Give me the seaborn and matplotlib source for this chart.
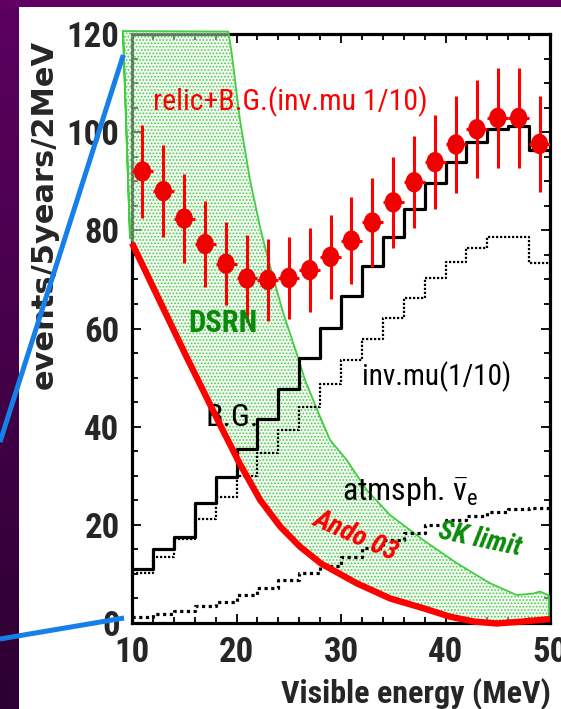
import numpy as np
import matplotlib
matplotlib.use("Agg")
import matplotlib.pyplot as plt
import seaborn as sns
from matplotlib.path import Path
from matplotlib.patches import Polygon
from matplotlib.lines import Line2D
from matplotlib.transforms import Affine2D
from matplotlib.ticker import MultipleLocator

# ---------------- data ----------------
bin_edges = [10, 12, 14, 16, 18, 20, 22, 24, 26, 28, 30,
             32, 34, 36, 38, 40, 42, 44, 46, 48, 50]
bin_centers = [11, 13, 15, 17, 19, 21, 23, 25, 27, 29,
               31, 33, 35, 37, 39, 41, 43, 45, 47, 49]
bin_half_width = 1.0

# relic + background (inv.mu scaled 1/10), with statistical errors
relic_bg = [92.0, 88.0, 82.4, 77.2, 73.2, 70.2, 69.9, 70.3, 71.9, 74.6,
            77.9, 81.6, 85.7, 89.8, 93.9, 97.5, 100.6, 102.9, 102.9, 97.6]
relic_err = [9.5, 9.3, 9.1, 8.7, 8.4, 8.8, 8.3, 8.3, 8.5, 8.6,
             8.8, 9.0, 9.2, 9.4, 9.6, 9.8, 10.0, 10.1, 10.1, 9.8]

# total background
bg_total = [10.9, 15.0, 17.6, 24.4, 29.8, 35.4, 41.5, 47.6, 54.0, 60.2,
            66.6, 72.7, 78.7, 84.3, 89.6, 93.9, 97.9, 100.7, 101.3, 96.4]
# invisible muon decay electrons (1/10)
inv_mu = [10.1, 13.4, 17.1, 21.1, 25.7, 30.0, 34.6, 39.3, 44.1, 48.7,
          53.5, 57.8, 62.2, 66.3, 70.2, 73.5, 76.5, 78.6, 78.6, 73.3]
# atmospheric anti-nu_e
atm_nue = [1.2, 1.8, 2.5, 3.5, 4.3, 5.8, 7.1, 8.7, 10.1, 11.6,
           13.4, 15.2, 16.9, 18.3, 20.0, 21.0, 21.8, 22.7, 23.2, 23.5]

# Ando 03 relic spectrum prediction
ando_x = [10.0, 12.0, 15.2, 18.4, 20.3, 22.25, 24.2, 26.1, 28.1, 31.5,
          34.7, 37.9, 40.4, 42.7, 44.9, 47.4, 50.0]
ando_y = [77.4, 68.5, 54.3, 40.5, 32.5, 25.1, 19.6, 15.5, 12.1, 8.1,
          5.0, 3.0, 1.3, 0.3, -0.1, 0.3, 0.8]

# SK upper limit on the DSRN spectrum (upper edge of the allowed band)
sk_x = [9.14, 19.22, 19.54, 20.33, 21.29, 22.25, 23.04, 24.48, 25.76, 26.56,
        28.0, 28.95, 30.55, 32.46, 34.69, 37.87, 41.07, 44.26, 46.81, 48.4,
        49.04, 49.9, 49.9]
sk_y = [120.6, 120.5, 116.1, 102.5, 90.3, 80.7, 74.0, 63.1, 54.9, 49.5,
        42.0, 37.3, 33.2, 27.1, 22.0, 16.9, 12.2, 8.1, 5.7, 6.0,
        6.4, 5.6, 0.8]
band_left_x = [9.81, 9.14]
band_left_y = [78.4, 120.6]

x_ticks = [10, 20, 30, 40, 50]
y_ticks = [0, 20, 40, 60, 80, 100, 120]

# ---------------- style ----------------
sns.set_theme(style="ticks")
NARROW = ["Liberation Sans Narrow", "Roboto Condensed", "Open Sans Condensed",
          "DejaVu Sans Condensed", "Liberation Sans", "DejaVu Sans"]
plt.rcParams.update({
    "font.family": NARROW,
    "font.stretch": "condensed",
    "mathtext.fontset": "custom",
    "mathtext.rm": "Roboto Condensed",
    "mathtext.it": "Roboto Condensed",
    "mathtext.bf": "Roboto Condensed:bold",
    "hatch.linewidth": 0.8,
    "axes.edgecolor": "black",
})

RED = "#ff0000"
GREEN_LINE = "#44cc44"
GREEN_TEXT = "#0a8a0a"

W, H = 561, 709
fig = plt.figure(figsize=(W / 100, H / 100), dpi=100, facecolor="white")

# purple slide frame
grad = np.linspace(0, 1, 256).reshape(-1, 1)
frame_cmap = matplotlib.colors.LinearSegmentedColormap.from_list(
    "frame", ["#5c005f", "#2c0032"])
bar_ax = fig.add_axes([0, 0, 18.5 / W, 1])
bar_ax.imshow(grad, aspect="auto", cmap=frame_cmap, extent=[0, 1, 0, 1])
bar_ax.set_axis_off()
top_ax = fig.add_axes([0, 1 - 7 / H, 1, 7 / H])
top_ax.set_facecolor("#600060")
top_ax.set_xticks([]); top_ax.set_yticks([])
for s in top_ax.spines.values():
    s.set_visible(False)

ax = fig.add_axes([132 / W, 1 - 623 / H, 418 / W, 589 / H])
ax.set_facecolor("white")

# DSRN allowed band between the Ando prediction and the SK limit
band_x = sk_x + ando_x[::-1] + band_left_x
band_y = sk_y + ando_y[::-1] + band_left_y
band = Polygon(np.column_stack([band_x, band_y]), closed=True,
               facecolor=(0.90, 0.97, 0.90, 0.45), edgecolor="#4cc84c",
               hatch=".....", linewidth=0, zorder=2.6, clip_on=False)
ax.add_patch(band)
sns.lineplot(x=band_left_x[::-1] + sk_x, y=band_left_y[::-1] + sk_y,
             sort=False, estimator=None, color=GREEN_LINE, linewidth=1.3,
             clip_on=False, zorder=2.7, ax=ax)

# background histograms
sns.histplot(x=bin_centers, weights=atm_nue, bins=bin_edges, element="step",
             fill=False, color="black", linewidth=2.3,
             linestyle=(0, (1, 1.1)), zorder=4, ax=ax)
sns.histplot(x=bin_centers, weights=inv_mu, bins=bin_edges, element="step",
             fill=False, color="black", linewidth=1.6,
             linestyle=(0, (1, 0.8)), zorder=4, ax=ax)
sns.histplot(x=bin_centers, weights=bg_total, bins=bin_edges, element="step",
             fill=False, color="black", linewidth=2.3, zorder=4.2, ax=ax)

# Ando 03 prediction
sns.lineplot(x=ando_x, y=ando_y, sort=False, estimator=None, color=RED,
             linewidth=4.6, solid_capstyle="butt", clip_on=False,
             zorder=5, ax=ax)

# relic + B.G. points
ax.errorbar(bin_centers, relic_bg, yerr=relic_err, xerr=bin_half_width,
            fmt="none", ecolor=RED, elinewidth=2.2, capsize=0, zorder=6)
ellipse = Path.unit_circle().transformed(Affine2D().scale(0.85, 1.0))
sns.scatterplot(x=bin_centers, y=relic_bg, marker=ellipse, s=215,
                color="#f00000", edgecolor="none", linewidth=0,
                zorder=7, ax=ax)

# axes
ax.set_xlim(10, 50)
ax.set_ylim(0, 120)
ax.set_xticks(x_ticks)
ax.set_yticks(y_ticks)
ax.set_xticklabels([str(v) for v in x_ticks], fontweight="bold", fontsize=25)
ax.set_yticklabels([str(v) for v in y_ticks], fontweight="bold", fontsize=25)
ax.xaxis.set_minor_locator(MultipleLocator(2))
ax.yaxis.set_minor_locator(MultipleLocator(5))
ax.tick_params(which="both", direction="in", top=True, right=True,
               width=1.3, color="black")
ax.tick_params(which="major", length=6.5, pad=9)
ax.tick_params(which="minor", length=4)
for s in ax.spines.values():
    s.set_linewidth(2.3)
    s.set_color("black")
    s.set_zorder(2.5)

ax.set_ylabel("events/5years/2MeV", fontfamily="DejaVu Sans",
              fontstretch="normal", fontweight="bold", fontsize=22,
              va="center")
ax.yaxis.set_label_coords((44 - 132) / 418, (623 - 214) / 589)
ax.set_xlabel("Visible energy (MeV)", fontweight="bold", fontsize=23,
              va="baseline", ha="center")
ax.xaxis.set_label_coords((415.5 - 132) / 418, (623 - 703) / 589)

# annotations
ax.text(12.0, 104.5, "relic+B.G.(inv.mu 1/10)", color=RED, fontsize=21.5,
        ha="left", va="baseline", zorder=8)
ax.text(18.66, 61.1, "DSRN", color=GREEN_TEXT, fontsize=22,
        fontweight="bold", ha="center", va="center", zorder=8)
ax.text(17.0, 40.1, "B.G.", color="black", fontsize=23,
        ha="left", va="baseline", zorder=4.5)
ax.text(32.0, 48.5, "inv.mu(1/10)", color="black", fontsize=21,
        ha="left", va="baseline", zorder=8)
ax.text(30.07, 25.06, r"atmsph. $\bar{\nu}_{e}$", color="black",
        fontsize=23, ha="left", va="baseline", zorder=8)
ax.text(31.4, 17.9, "Ando 03", color=RED, fontsize=20, fontweight="bold",
        fontstyle="italic", rotation=-24, rotation_mode="anchor",
        ha="center", va="center", zorder=8)
ax.text(43.3, 17.0, "SK limit", color=GREEN_TEXT, fontsize=20,
        fontweight="bold", fontstyle="italic", rotation=-12,
        rotation_mode="anchor", ha="center", va="center", zorder=8)

# zoom guide lines of the slide
BLUE = "#1780e8"
fig.add_artist(Line2D([123.3 / W, 0], [1 - 55 / H, 1 - 442 / H],
                      transform=fig.transFigure, color=BLUE, linewidth=3.6,
                      solid_capstyle="butt", zorder=10))
fig.add_artist(Line2D([124 / W, 0], [1 - 618 / H, 1 - 639 / H],
                      transform=fig.transFigure, color=BLUE, linewidth=3.6,
                      solid_capstyle="butt", zorder=10))

fig.savefig("out.png", dpi=100, facecolor="white")
